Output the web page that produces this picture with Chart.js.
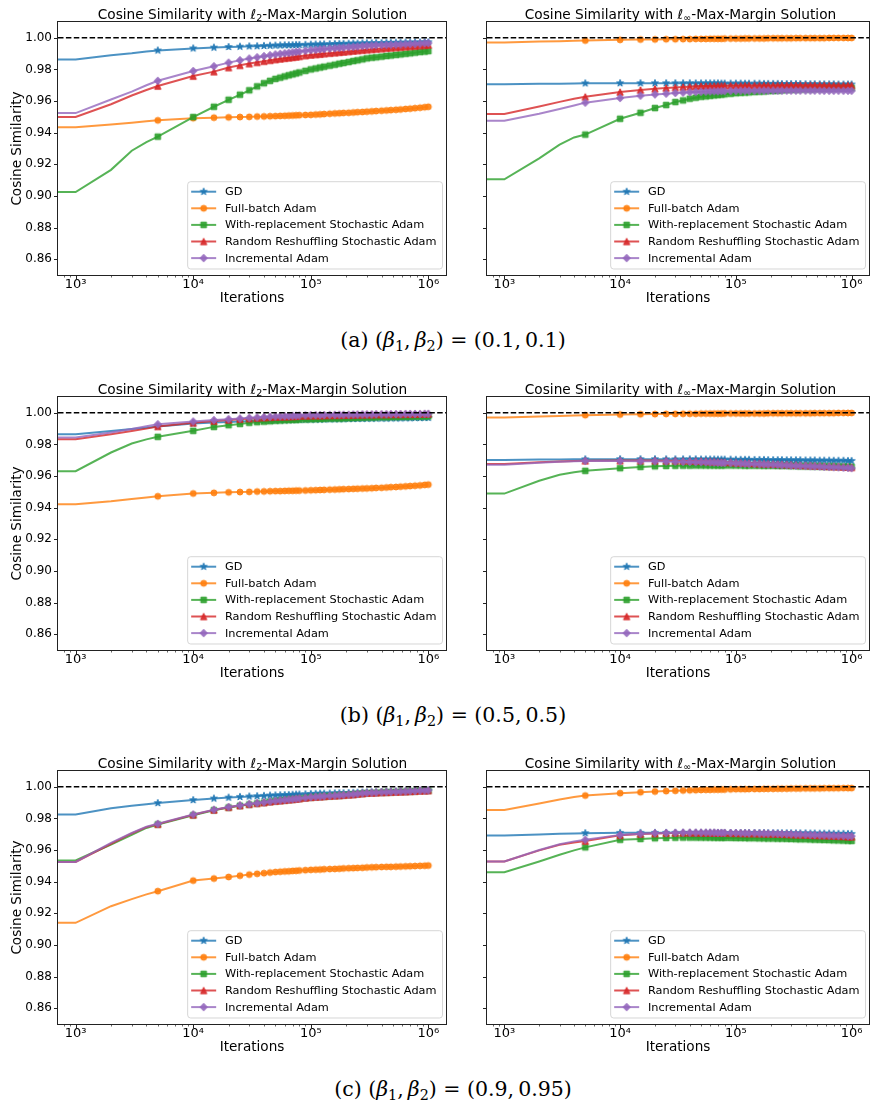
<!DOCTYPE html>
<html>
<head>
<meta charset="utf-8">
<script src="https://cdn.jsdelivr.net/npm/chart.js"></script>
<style>
  body { margin: 0; background: #fff; }
  #fig { position: relative; width: 875px; height: 1103px; overflow: hidden; }
  #fig canvas { position: absolute; }
  .ttl { position: absolute; transform: translateX(-50%); white-space: nowrap;
         font: 13.7px "DejaVu Sans", sans-serif; color: #000; line-height: 16px; }
  .ttl sub { font-size: 0.7em; vertical-align: -0.25em; line-height: 0; }
  .cap { position: absolute; transform: translateX(-50%); white-space: nowrap;
         font: 20.5px "DejaVu Serif", serif; color: #000; line-height: 24px; }
  .cap sub { font-size: 0.7em; vertical-align: -0.3em; line-height: 0; }
</style>
</head>
<body>
<div id="fig"></div>
<script>
// iteration counts where the curves are sampled (first entry = start of run)
const ITERATIONS = [1, 1000, 2000, 3000, 4000, 5000,
  10000, 15000, 20000, 25000, 30000, 35000, 40000, 45000, 50000,
  55000, 60000, 65000, 70000, 75000, 80000, 90000, 100000,
  110000, 120000, 130000, 145000, 160000, 175000, 190000, 210000, 230000, 250000, 275000, 300000,
  330000, 360000, 400000, 440000, 480000, 530000, 580000, 640000, 700000, 770000, 850000, 930000, 1000000];

const SERIES_NAMES = ['GD', 'Full-batch Adam', 'With-replacement Stochastic Adam',
  'Random Reshuffling Stochastic Adam', 'Incremental Adam'];
const X_TICKS = [1e3, 1e4, 1e5, 1e6];
const X_TICK_LABELS = ['10³', '10⁴', '10⁵', '10⁶'];
const Y_TICKS = [0.86, 0.88, 0.90, 0.92, 0.94, 0.96, 0.98, 1.00];
const REFERENCE_LEVEL = 1.0;
const PANEL_TAGS = ['a', 'b', 'c'];
const BETA1 = ['0.1', '0.5', '0.9'];
const BETA2 = ['0.1', '0.5', '0.95'];

// (a) beta = (0.1, 0.1)
const a_l2_gd = [0.9863,0.9863,0.9890,0.9902,0.9913,0.9920, 0.9933,0.9938,0.9942,0.9944,0.9946,0.9947,0.9949,0.9950,0.9951, 0.9952,0.9953,0.9953,0.9954,0.9955,0.9955,0.9956,0.9957, 0.9958,0.9958,0.9959,0.9960,0.9961,0.9962,0.9962,0.9963,0.9964,0.9964,0.9965,0.9966, 0.9966,0.9967,0.9967,0.9968,0.9968,0.9969,0.9969,0.9970,0.9970,0.9971,0.9971,0.9972,0.9972];
const a_l2_full = [0.9434,0.9434,0.9452,0.9463,0.9472,0.9478, 0.9492,0.9495,0.9497,0.9499,0.9500,0.9502,0.9503,0.9504,0.9505, 0.9506,0.9507,0.9508,0.9509,0.9510,0.9511,0.9512,0.9513, 0.9515,0.9516,0.9518,0.9520,0.9522,0.9523,0.9525,0.9526,0.9528,0.9530,0.9531,0.9533, 0.9535,0.9537,0.9539,0.9541,0.9543,0.9545,0.9547,0.9550,0.9552,0.9555,0.9558,0.9561,0.9564];
const a_l2_wr = [0.9025,0.9025,0.9165,0.9286,0.9340,0.9375, 0.9499,0.9564,0.9608,0.9640,0.9668,0.9693,0.9713,0.9728,0.9740, 0.9748,0.9756,0.9763,0.9769,0.9775,0.9781,0.9791,0.9800, 0.9806,0.9812,0.9817,0.9824,0.9830,0.9836,0.9841,0.9847,0.9853,0.9858,0.9864,0.9870, 0.9874,0.9877,0.9881,0.9885,0.9888,0.9892,0.9895,0.9899,0.9902,0.9906,0.9910,0.9913,0.9916];
const a_l2_rr = [0.9499,0.9499,0.9580,0.9635,0.9670,0.9695, 0.9758,0.9786,0.9812,0.9826,0.9837,0.9845,0.9852,0.9858,0.9863, 0.9867,0.9871,0.9874,0.9877,0.9880,0.9883,0.9888,0.9892, 0.9895,0.9897,0.9900,0.9903,0.9906,0.9909,0.9911,0.9914,0.9917,0.9920,0.9922,0.9925, 0.9927,0.9930,0.9932,0.9935,0.9937,0.9939,0.9941,0.9944,0.9946,0.9948,0.9951,0.9953,0.9955];
const a_l2_inc = [0.9524,0.9524,0.9610,0.9660,0.9700,0.9728, 0.9790,0.9820,0.9843,0.9858,0.9869,0.9877,0.9884,0.9890,0.9895, 0.9899,0.9902,0.9905,0.9908,0.9911,0.9913,0.9918,0.9922, 0.9924,0.9927,0.9929,0.9932,0.9934,0.9936,0.9938,0.9941,0.9943,0.9945,0.9948,0.9950, 0.9951,0.9953,0.9954,0.9955,0.9956,0.9957,0.9958,0.9960,0.9961,0.9962,0.9964,0.9966,0.9967];

const a_inf_gd = [0.9706,0.9706,0.9709,0.9710,0.9711,0.9712, 0.9713,0.9713,0.9713,0.9713,0.9713,0.9713,0.9713,0.9712,0.9712, 0.9712,0.9712,0.9712,0.9712,0.9711,0.9711,0.9711,0.9711, 0.9711,0.9710,0.9710,0.9710,0.9710,0.9709,0.9709,0.9709,0.9709,0.9708,0.9708,0.9708, 0.9708,0.9708,0.9707,0.9707,0.9707,0.9706,0.9706,0.9706,0.9706,0.9705,0.9705,0.9705,0.9705];
const a_inf_full = [0.9971,0.9971,0.9976,0.9979,0.9981,0.9983, 0.9987,0.9989,0.9990,0.9991,0.9991,0.9992,0.9992,0.9993,0.9993, 0.9993,0.9994,0.9994,0.9994,0.9994,0.9995,0.9995,0.9995, 0.9995,0.9996,0.9996,0.9996,0.9996,0.9996,0.9997,0.9997,0.9997,0.9997,0.9997,0.9997, 0.9998,0.9998,0.9998,0.9998,0.9998,0.9998,0.9998,0.9999,0.9999,0.9999,0.9999,0.9999,0.9999];
const a_inf_wr = [0.9105,0.9105,0.9238,0.9325,0.9370,0.9388, 0.9488,0.9526,0.9556,0.9575,0.9594,0.9604,0.9615,0.9621,0.9627, 0.9630,0.9633,0.9636,0.9638,0.9641,0.9643,0.9646,0.9650, 0.9652,0.9654,0.9655,0.9657,0.9659,0.9661,0.9663,0.9664,0.9666,0.9668,0.9670,0.9672, 0.9673,0.9674,0.9675,0.9675,0.9676,0.9677,0.9678,0.9679,0.9680,0.9681,0.9681,0.9682,0.9683];
const a_inf_rr = [0.9518,0.9518,0.9565,0.9595,0.9614,0.9627, 0.9657,0.9670,0.9678,0.9683,0.9686,0.9689,0.9691,0.9693,0.9695, 0.9695,0.9696,0.9696,0.9697,0.9697,0.9697,0.9698,0.9698, 0.9698,0.9698,0.9699,0.9699,0.9699,0.9699,0.9699,0.9699,0.9699,0.9700,0.9700,0.9700, 0.9700,0.9700,0.9700,0.9700,0.9700,0.9700,0.9700,0.9699,0.9699,0.9699,0.9699,0.9699,0.9699];
const a_inf_inc = [0.9476,0.9476,0.9520,0.9550,0.9572,0.9590, 0.9619,0.9634,0.9642,0.9647,0.9651,0.9654,0.9656,0.9658,0.9659, 0.9660,0.9661,0.9662,0.9662,0.9663,0.9663,0.9664,0.9665, 0.9665,0.9665,0.9665,0.9665,0.9666,0.9666,0.9666,0.9666,0.9666,0.9666,0.9666,0.9666, 0.9666,0.9666,0.9666,0.9666,0.9666,0.9666,0.9665,0.9665,0.9665,0.9665,0.9665,0.9665,0.9665];

// (b) beta = (0.5, 0.5)
const b_l2_gd = [0.9865,0.9865,0.9885,0.9898,0.9906,0.9913, 0.9932,0.9938,0.9942,0.9945,0.9947,0.9949,0.9950,0.9951,0.9952, 0.9953,0.9953,0.9954,0.9954,0.9955,0.9955,0.9956,0.9957, 0.9957,0.9958,0.9958,0.9959,0.9959,0.9960,0.9960,0.9961,0.9961,0.9962,0.9962,0.9963, 0.9963,0.9964,0.9964,0.9964,0.9965,0.9965,0.9965,0.9966,0.9966,0.9967,0.9967,0.9968,0.9968];
const b_l2_full = [0.9422,0.9422,0.9440,0.9455,0.9465,0.9472, 0.9490,0.9494,0.9497,0.9499,0.9500,0.9502,0.9503,0.9504,0.9505, 0.9505,0.9506,0.9507,0.9507,0.9508,0.9508,0.9509,0.9510, 0.9511,0.9512,0.9513,0.9514,0.9515,0.9516,0.9517,0.9518,0.9519,0.9520,0.9521,0.9522, 0.9523,0.9525,0.9526,0.9528,0.9530,0.9531,0.9533,0.9535,0.9537,0.9539,0.9541,0.9544,0.9546];
const b_l2_wr = [0.9631,0.9631,0.9749,0.9806,0.9832,0.9848, 0.9886,0.9911,0.9922,0.9930,0.9937,0.9941,0.9944,0.9947,0.9950, 0.9951,0.9953,0.9954,0.9955,0.9956,0.9957,0.9958,0.9959, 0.9960,0.9961,0.9962,0.9963,0.9964,0.9964,0.9965,0.9966,0.9967,0.9968,0.9969,0.9970, 0.9970,0.9971,0.9972,0.9972,0.9973,0.9973,0.9974,0.9974,0.9975,0.9976,0.9976,0.9977,0.9978];
const b_l2_rr = [0.9833,0.9833,0.9865,0.9885,0.9900,0.9914, 0.9937,0.9948,0.9955,0.9960,0.9964,0.9967,0.9970,0.9972,0.9974, 0.9975,0.9976,0.9977,0.9978,0.9979,0.9980,0.9981,0.9982, 0.9983,0.9983,0.9984,0.9984,0.9985,0.9985,0.9986,0.9986,0.9987,0.9988,0.9988,0.9989, 0.9989,0.9990,0.9990,0.9990,0.9991,0.9991,0.9991,0.9992,0.9992,0.9992,0.9993,0.9993,0.9993];
const b_l2_inc = [0.9844,0.9844,0.9875,0.9897,0.9915,0.9928, 0.9945,0.9954,0.9960,0.9964,0.9968,0.9971,0.9973,0.9975,0.9977, 0.9978,0.9979,0.9980,0.9981,0.9982,0.9983,0.9984,0.9985, 0.9985,0.9986,0.9986,0.9987,0.9987,0.9988,0.9988,0.9988,0.9989,0.9989,0.9990,0.9990, 0.9990,0.9991,0.9991,0.9991,0.9992,0.9992,0.9992,0.9993,0.9993,0.9993,0.9993,0.9994,0.9994];

const b_inf_gd = [0.9702,0.9702,0.9704,0.9705,0.9706,0.9706, 0.9707,0.9707,0.9707,0.9706,0.9706,0.9706,0.9706,0.9706,0.9705, 0.9705,0.9705,0.9705,0.9704,0.9704,0.9704,0.9704,0.9703, 0.9703,0.9703,0.9703,0.9702,0.9702,0.9702,0.9701,0.9701,0.9701,0.9701,0.9700,0.9700, 0.9700,0.9700,0.9699,0.9699,0.9699,0.9698,0.9698,0.9698,0.9697,0.9697,0.9697,0.9696,0.9696];
const b_inf_full = [0.9970,0.9970,0.9977,0.9980,0.9983,0.9985, 0.9989,0.9991,0.9992,0.9993,0.9993,0.9994,0.9994,0.9994,0.9995, 0.9995,0.9995,0.9995,0.9995,0.9995,0.9996,0.9996,0.9996, 0.9996,0.9996,0.9996,0.9996,0.9996,0.9996,0.9997,0.9997,0.9997,0.9997,0.9997,0.9997, 0.9997,0.9997,0.9997,0.9997,0.9998,0.9998,0.9998,0.9998,0.9998,0.9999,0.9999,0.9999,0.9999];
const b_inf_wr = [0.9489,0.9489,0.9570,0.9608,0.9624,0.9633, 0.9650,0.9658,0.9662,0.9664,0.9665,0.9666,0.9666,0.9667,0.9667, 0.9667,0.9667,0.9667,0.9667,0.9667,0.9667,0.9667,0.9667, 0.9667,0.9666,0.9666,0.9666,0.9666,0.9665,0.9665,0.9665,0.9664,0.9664,0.9664,0.9663, 0.9663,0.9662,0.9662,0.9662,0.9661,0.9661,0.9660,0.9660,0.9660,0.9659,0.9659,0.9658,0.9658];
const b_inf_rr = [0.9676,0.9676,0.9687,0.9692,0.9695,0.9697, 0.9698,0.9698,0.9698,0.9697,0.9697,0.9696,0.9696,0.9695,0.9695, 0.9694,0.9692,0.9691,0.9690,0.9689,0.9688,0.9687,0.9685, 0.9684,0.9683,0.9682,0.9681,0.9680,0.9679,0.9678,0.9677,0.9676,0.9675,0.9674,0.9672, 0.9671,0.9669,0.9668,0.9667,0.9666,0.9665,0.9663,0.9662,0.9661,0.9660,0.9658,0.9657,0.9655];
const b_inf_inc = [0.9672,0.9672,0.9684,0.9690,0.9693,0.9695, 0.9695,0.9694,0.9693,0.9692,0.9691,0.9690,0.9689,0.9688,0.9688, 0.9687,0.9686,0.9685,0.9684,0.9683,0.9683,0.9682,0.9680, 0.9679,0.9678,0.9677,0.9676,0.9675,0.9674,0.9673,0.9672,0.9671,0.9669,0.9668,0.9666, 0.9665,0.9664,0.9663,0.9662,0.9661,0.9660,0.9658,0.9657,0.9656,0.9655,0.9653,0.9652,0.9650];

// (c) beta = (0.9, 0.95)
const c_l2_gd = [0.9825,0.9825,0.9865,0.9880,0.9890,0.9897, 0.9916,0.9926,0.9932,0.9936,0.9939,0.9941,0.9943,0.9945,0.9946, 0.9947,0.9948,0.9949,0.9950,0.9951,0.9952,0.9953,0.9955, 0.9956,0.9957,0.9957,0.9958,0.9959,0.9960,0.9960,0.9961,0.9962,0.9963,0.9964,0.9965, 0.9966,0.9966,0.9967,0.9968,0.9969,0.9970,0.9970,0.9971,0.9972,0.9973,0.9974,0.9974,0.9975];
const c_l2_full = [0.9140,0.9140,0.9245,0.9290,0.9320,0.9340, 0.9407,0.9420,0.9430,0.9438,0.9445,0.9450,0.9454,0.9458,0.9461, 0.9463,0.9465,0.9466,0.9468,0.9469,0.9471,0.9473,0.9475, 0.9476,0.9477,0.9479,0.9480,0.9481,0.9482,0.9484,0.9485,0.9486,0.9487,0.9488,0.9490, 0.9491,0.9492,0.9493,0.9494,0.9494,0.9495,0.9496,0.9497,0.9498,0.9499,0.9500,0.9501,0.9502];
const c_l2_wr = [0.9534,0.9534,0.9635,0.9697,0.9740,0.9762, 0.9820,0.9852,0.9869,0.9880,0.9888,0.9895,0.9900,0.9905,0.9909, 0.9912,0.9915,0.9918,0.9920,0.9923,0.9925,0.9929,0.9933, 0.9935,0.9937,0.9939,0.9941,0.9943,0.9945,0.9947,0.9949,0.9951,0.9954,0.9957,0.9960, 0.9961,0.9962,0.9964,0.9965,0.9966,0.9967,0.9968,0.9969,0.9971,0.9972,0.9974,0.9976,0.9977];
const c_l2_rr = [0.9525,0.9525,0.9640,0.9705,0.9745,0.9764, 0.9823,0.9854,0.9871,0.9882,0.9890,0.9896,0.9901,0.9906,0.9910, 0.9913,0.9916,0.9919,0.9921,0.9924,0.9926,0.9930,0.9934, 0.9936,0.9938,0.9940,0.9942,0.9944,0.9946,0.9948,0.9950,0.9952,0.9955,0.9958,0.9961, 0.9962,0.9963,0.9965,0.9966,0.9967,0.9968,0.9969,0.9970,0.9972,0.9973,0.9975,0.9976,0.9977];
const c_l2_inc = [0.9525,0.9525,0.9645,0.9708,0.9747,0.9766, 0.9825,0.9855,0.9872,0.9883,0.9891,0.9897,0.9902,0.9907,0.9911, 0.9914,0.9917,0.9920,0.9922,0.9925,0.9927,0.9931,0.9935, 0.9937,0.9939,0.9941,0.9943,0.9945,0.9947,0.9949,0.9951,0.9953,0.9956,0.9959,0.9962, 0.9963,0.9964,0.9966,0.9967,0.9968,0.9969,0.9970,0.9971,0.9973,0.9974,0.9976,0.9977,0.9978];

const c_inf_gd = [0.9692,0.9692,0.9699,0.9703,0.9705,0.9707, 0.9709,0.9709,0.9709,0.9709,0.9709,0.9709,0.9709,0.9709,0.9709, 0.9709,0.9709,0.9709,0.9708,0.9708,0.9708,0.9708,0.9708, 0.9708,0.9708,0.9708,0.9708,0.9708,0.9708,0.9707,0.9707,0.9707,0.9707,0.9707,0.9707, 0.9706,0.9706,0.9706,0.9705,0.9705,0.9704,0.9704,0.9704,0.9703,0.9703,0.9703,0.9702,0.9702];
const c_inf_full = [0.9854,0.9854,0.9895,0.9920,0.9935,0.9945, 0.9960,0.9966,0.9970,0.9973,0.9975,0.9977,0.9978,0.9979,0.9980, 0.9981,0.9981,0.9982,0.9982,0.9983,0.9983,0.9984,0.9985, 0.9985,0.9985,0.9986,0.9986,0.9986,0.9987,0.9987,0.9987,0.9988,0.9988,0.9988,0.9989, 0.9989,0.9989,0.9990,0.9990,0.9990,0.9990,0.9991,0.9991,0.9991,0.9991,0.9992,0.9992,0.9992];
const c_inf_wr = [0.9460,0.9460,0.9528,0.9570,0.9598,0.9617, 0.9665,0.9670,0.9675,0.9677,0.9678,0.9679,0.9679,0.9679,0.9679, 0.9679,0.9679,0.9678,0.9678,0.9678,0.9677,0.9677,0.9676, 0.9676,0.9676,0.9675,0.9675,0.9674,0.9674,0.9673,0.9673,0.9672,0.9672,0.9671,0.9670, 0.9669,0.9668,0.9668,0.9667,0.9666,0.9665,0.9664,0.9663,0.9662,0.9661,0.9660,0.9659,0.9658];
const c_inf_rr = [0.9528,0.9528,0.9598,0.9633,0.9648,0.9657, 0.9693,0.9701,0.9705,0.9707,0.9708,0.9709,0.9709,0.9709,0.9709, 0.9709,0.9709,0.9709,0.9708,0.9708,0.9708,0.9707,0.9707, 0.9706,0.9706,0.9705,0.9705,0.9704,0.9704,0.9703,0.9702,0.9702,0.9701,0.9700,0.9699, 0.9698,0.9697,0.9696,0.9695,0.9694,0.9693,0.9692,0.9691,0.9689,0.9688,0.9687,0.9685,0.9684];
const c_inf_inc = [0.9528,0.9528,0.9600,0.9637,0.9655,0.9665, 0.9696,0.9703,0.9707,0.9708,0.9709,0.9710,0.9710,0.9710,0.9710, 0.9710,0.9710,0.9710,0.9709,0.9709,0.9709,0.9708,0.9708, 0.9707,0.9707,0.9706,0.9706,0.9705,0.9705,0.9704,0.9704,0.9703,0.9702,0.9701,0.9700, 0.9699,0.9698,0.9697,0.9696,0.9695,0.9694,0.9693,0.9692,0.9691,0.9690,0.9689,0.9688,0.9688];

const PANELS = [
  [[a_l2_gd, a_l2_full, a_l2_wr, a_l2_rr, a_l2_inc], [a_inf_gd, a_inf_full, a_inf_wr, a_inf_rr, a_inf_inc]],
  [[b_l2_gd, b_l2_full, b_l2_wr, b_l2_rr, b_l2_inc], [b_inf_gd, b_inf_full, b_inf_wr, b_inf_rr, b_inf_inc]],
  [[c_l2_gd, c_l2_full, c_l2_wr, c_l2_rr, c_l2_inc], [c_inf_gd, c_inf_full, c_inf_wr, c_inf_rr, c_inf_inc]]
];

// matplotlib tab10 colours
const RGB = ['31,119,180', '255,127,14', '44,160,44', '214,39,40', '148,103,189'];
const LINE_COLORS = RGB.map(c => 'rgba(' + c + ',0.8)');
const MARKER_COLORS = RGB.map(c => 'rgba(' + c + ',0.9)');
const SHAPES = ['star', 'circle', 'square', 'triangle', 'diamond'];

Chart.defaults.font.family = '"DejaVu Sans", sans-serif';
Chart.defaults.color = '#000';

function makeMarker(shape, color) {
  const c = document.createElement('canvas');
  c.width = c.height = 12;
  const g = c.getContext('2d');
  g.translate(6, 6);
  g.fillStyle = color; g.strokeStyle = color; g.lineWidth = 1;
  g.beginPath();
  if (shape === 'star') {
    for (let k = 0; k < 10; k++) {
      const r = k % 2 ? 1.45 : 3.7, t = -Math.PI / 2 + k * Math.PI / 5;
      g.lineTo(r * Math.cos(t), r * Math.sin(t));
    }
  } else if (shape === 'circle') {
    g.arc(0, 0, 3.0, 0, Math.PI * 2);
  } else if (shape === 'square') {
    g.rect(-2.8, -2.8, 5.6, 5.6);
  } else if (shape === 'triangle') {
    g.moveTo(0, -3.2); g.lineTo(3.2, 3.2); g.lineTo(-3.2, 3.2);
  } else {
    g.moveTo(0, -3.8); g.lineTo(3.6, 0); g.lineTo(0, 3.8); g.lineTo(-3.6, 0);
  }
  g.closePath(); g.fill(); g.stroke();
  return c;
}
const MARKERS = SHAPES.map((s, i) => makeMarker(s, MARKER_COLORS[i]));

// frame, tick marks, dashed reference line and legend
const axesDecor = {
  id: 'axesDecor',
  afterDatasetsDraw(chart) {
    const { ctx, chartArea: a, scales: { x, y } } = chart;
    ctx.save();
    const yr = y.getPixelForValue(REFERENCE_LEVEL);
    ctx.beginPath();
    ctx.setLineDash([5.5, 2.4]);
    ctx.lineWidth = 1.4; ctx.strokeStyle = '#000';
    ctx.moveTo(a.left, yr); ctx.lineTo(a.right, yr); ctx.stroke();
    ctx.setLineDash([]);

    const L = Math.round(a.left) - 0.5, R = Math.round(a.right) + 0.5;
    const T = Math.round(a.top) - 0.5, B = Math.round(a.bottom) + 0.5;
    ctx.strokeStyle = '#222'; ctx.lineWidth = 1;
    ctx.strokeRect(L, T, R - L, B - T);
    ctx.beginPath();
    Y_TICKS.forEach(v => {
      const py = Math.round(y.getPixelForValue(v)) + 0.5;
      ctx.moveTo(L, py); ctx.lineTo(L - 3.5, py);
    });
    X_TICKS.forEach(v => {
      const px = Math.round(x.getPixelForValue(v)) + 0.5;
      ctx.moveTo(px, B); ctx.lineTo(px, B + 3.5);
    });
    ctx.stroke();
    ctx.beginPath(); ctx.lineWidth = 0.7;
    for (let e = 2; e <= 6; e++) {
      for (let m = 2; m <= 9; m++) {
        const v = m * Math.pow(10, e);
        if (v < x.min || v > x.max) continue;
        const px = Math.round(x.getPixelForValue(v)) + 0.5;
        ctx.moveTo(px, B); ctx.lineTo(px, B + 2);
      }
    }
    ctx.stroke();

    // legend, lower right
    ctx.font = '11.3px "DejaVu Sans"';
    const tw = Math.max(...SERIES_NAMES.map(n => ctx.measureText(n).width));
    const w = 37.3 + tw + 6, h = 87.3;
    const bx = a.right - 3.5 - w, by = a.bottom - 6 - h;
    ctx.beginPath();
    if (ctx.roundRect) ctx.roundRect(bx, by, w, h, 3); else ctx.rect(bx, by, w, h);
    ctx.fillStyle = 'rgba(255,255,255,0.8)'; ctx.fill();
    ctx.strokeStyle = 'rgba(204,204,204,0.8)'; ctx.lineWidth = 1; ctx.stroke();
    ctx.textBaseline = 'middle'; ctx.textAlign = 'left';
    SERIES_NAMES.forEach((n, i) => {
      const ry = by + 10 + i * 16.6;
      ctx.beginPath();
      ctx.strokeStyle = LINE_COLORS[i]; ctx.lineWidth = 2;
      ctx.moveTo(bx + 3.5, ry); ctx.lineTo(bx + 28.5, ry); ctx.stroke();
      ctx.drawImage(MARKERS[i], bx + 16 - 6, ry - 6);
      ctx.fillStyle = '#000';
      ctx.fillText(n, bx + 37.3, ry + 0.5);
    });
    ctx.restore();
  }
};

function makeChart(canvas, seriesList, showY) {
  return new Chart(canvas, {
    type: 'line',
    data: {
      datasets: seriesList.map((vals, i) => ({
        label: SERIES_NAMES[i],
        data: ITERATIONS.map((it, k) => ({ x: it, y: vals[k] })),
        borderColor: LINE_COLORS[i],
        backgroundColor: LINE_COLORS[i],
        borderWidth: 2,
        tension: 0,
        fill: false,
        pointStyle: MARKERS[i],
        pointRadius: ctx => ITERATIONS[ctx.dataIndex] >= 5000 ? 3 : 0,
        order: 5 - i,
        clip: 0
      }))
    },
    options: {
      responsive: false,
      animation: false,
      events: [],
      layout: { padding: { top: 14, left: 0, bottom: 0, right: showY ? 5 : 1 } },
      plugins: { legend: { display: false }, tooltip: { enabled: false } },
      scales: {
        x: {
          type: 'logarithmic', min: 708, max: 1.413e6,
          grid: { display: false, drawTicks: false },
          border: { display: false },
          afterBuildTicks: s => { s.ticks = X_TICKS.map(v => ({ value: v })); },
          afterFit: s => { s.height = 33; },
          ticks: {
            callback: (v, i) => X_TICK_LABELS[i],
            font: { size: 13 }, padding: 2, maxRotation: 0, autoSkip: false
          },
          title: { display: true, text: 'Iterations', font: { size: 13.6 }, padding: { top: 0, bottom: 1 } }
        },
        y: {
          min: 0.85, max: 1.01,
          grid: { display: false, drawTicks: false },
          border: { display: false },
          afterBuildTicks: s => { s.ticks = Y_TICKS.map(v => ({ value: v })); },
          afterFit: s => { s.width = showY ? 58 : 17; },
          ticks: { display: showY, callback: v => v.toFixed(2), font: { size: 12 }, padding: 6 },
          title: { display: showY, text: 'Cosine Similarity', font: { size: 13.6 }, padding: { top: 9, bottom: 0 } }
        }
      }
    },
    plugins: [axesDecor]
  });
}

const fig = document.getElementById('fig');
const ROW_TOPS = [22, 397, 771];
const COLS = [
  { left: 0, width: 452, center: 252.5, sub: '2' },
  { left: 470, width: 405, center: 680.5, sub: '∞' }
];

ROW_TOPS.forEach((top, r) => {
  COLS.forEach((col, c) => {
    const cv = document.createElement('canvas');
    cv.width = col.width; cv.height = 300;
    cv.style.left = col.left + 'px'; cv.style.top = (top - 14) + 'px';
    fig.appendChild(cv);
    makeChart(cv, PANELS[r][c], c === 0);

    const t = document.createElement('div');
    t.className = 'ttl';
    t.style.left = col.center + 'px'; t.style.top = (top - 16.5) + 'px';
    t.innerHTML = 'Cosine Similarity with ℓ<sub>' + col.sub + '</sub>-Max-Margin Solution';
    fig.appendChild(t);
  });
  const cap = document.createElement('div');
  cap.className = 'cap';
  cap.style.left = '453px'; cap.style.top = (top + 318 - 12) + 'px';
  cap.innerHTML = '(' + PANEL_TAGS[r] + ') (<i>β</i><sub>1</sub>,&thinsp;<i>β</i><sub>2</sub>) = (' +
    BETA1[r] + ',&thinsp;' + BETA2[r] + ')';
  fig.appendChild(cap);
});
</script>
</body>
</html>
